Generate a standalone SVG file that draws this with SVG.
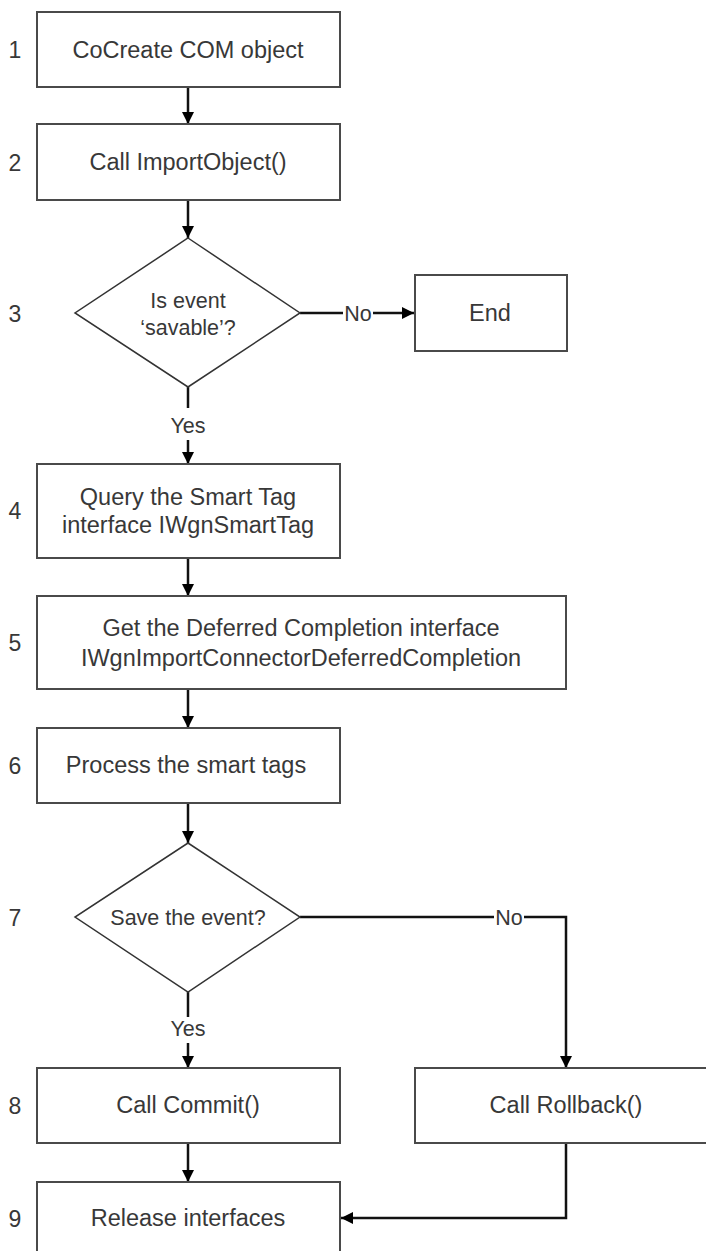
<svg xmlns="http://www.w3.org/2000/svg" width="706" height="1251" viewBox="0 0 706 1251">
<style>
  .box { fill: #ffffff; stroke: #4a4a4a; stroke-width: 2; }
  .dia { fill: #ffffff; stroke: #333333; stroke-width: 1.5; }
  .t { font-family: "Liberation Sans", Arial, sans-serif; font-size: 23.5px; fill: #383838; text-anchor: middle; }
  .d { font-family: "Liberation Sans", Arial, sans-serif; font-size: 21.5px; fill: #383838; text-anchor: middle; }
  .n { font-family: "Liberation Sans", Arial, sans-serif; font-size: 23px; fill: #383838; text-anchor: middle; }
  .c { fill: none; stroke: #111111; stroke-width: 2.5; }
  .ca { fill: none; stroke: #111111; stroke-width: 2.5; marker-end: url(#ah); }
</style>
<defs>
  <marker id="ah" markerUnits="userSpaceOnUse" markerWidth="14" markerHeight="14" viewBox="0 0 14 14" refX="13" refY="7" orient="auto">
    <path d="M1,1 L13,7 L1,13 Z" fill="#000000"/>
  </marker>
</defs>
<rect width="706" height="1251" fill="#ffffff"/>

<g id="labels">
  <text class="n" x="15" y="58">1</text>
  <text class="n" x="15" y="171">2</text>
  <text class="n" x="15" y="322">3</text>
  <text class="n" x="15" y="519">4</text>
  <text class="n" x="15" y="651">5</text>
  <text class="n" x="15" y="774">6</text>
  <text class="n" x="15" y="926">7</text>
  <text class="n" x="15" y="1114">8</text>
  <text class="n" x="15" y="1227">9</text>
</g>

<g id="connectors">
  <path class="ca" d="M188,87 V124"/>
  <path class="ca" d="M188,200 V238"/>
  <path class="c" d="M300,313 H343"/>
  <path class="ca" d="M373,313 H414"/>
  <path class="c" d="M188,387 V408"/>
  <path class="ca" d="M188,440 V464"/>
  <path class="ca" d="M188,558 V596"/>
  <path class="ca" d="M188,689 V728"/>
  <path class="ca" d="M188,803 V843"/>
  <path class="c" d="M300,917 H494"/>
  <path class="ca" d="M524,917 H566 V1068"/>
  <path class="c" d="M188,992 V1017"/>
  <path class="ca" d="M188,1043 V1068"/>
  <path class="ca" d="M188,1143 V1182"/>
  <path class="ca" d="M566,1143 V1218 H341"/>
  <text class="d" x="358" y="321">No</text>
  <text class="d" x="188" y="433">Yes</text>
  <text class="d" x="509" y="925">No</text>
  <text class="d" x="188" y="1036">Yes</text>
</g>

<g id="n1">
  <rect class="box" x="37" y="12" width="303" height="75"/>
  <text class="t" x="188" y="58">CoCreate COM object</text>
</g>
<g id="n2">
  <rect class="box" x="37" y="124" width="303" height="76"/>
  <text class="t" x="188" y="170">Call ImportObject()</text>
</g>
<g id="n3">
  <polygon class="dia" points="188,238 300,313 188,387 75,313"/>
  <text class="d" x="188" y="308">Is event</text>
  <text class="d" x="188" y="335">‘savable’?</text>
</g>
<g id="nEnd">
  <rect class="box" x="415" y="275" width="152" height="76"/>
  <text class="t" x="490" y="321">End</text>
</g>
<g id="n4">
  <rect class="box" x="37" y="464" width="303" height="94"/>
  <text class="t" x="188" y="505">Query the Smart Tag</text>
  <text class="t" x="188" y="533">interface IWgnSmartTag</text>
</g>
<g id="n5">
  <rect class="box" x="37" y="596" width="529" height="93"/>
  <text class="t" x="301" y="636">Get the Deferred Completion interface</text>
  <text class="t" x="301" y="666">IWgnImportConnectorDeferredCompletion</text>
</g>
<g id="n6">
  <rect class="box" x="37" y="728" width="303" height="75"/>
  <text class="t" x="186" y="773">Process the smart tags</text>
</g>
<g id="n7">
  <polygon class="dia" points="188,843 300,917 188,992 75,917"/>
  <text class="d" x="188" y="925">Save the event?</text>
</g>
<g id="n8">
  <rect class="box" x="37" y="1068" width="303" height="75"/>
  <text class="t" x="188" y="1113">Call Commit()</text>
</g>
<g id="nRollback">
  <rect class="box" x="415" y="1068" width="302" height="75"/>
  <text class="t" x="566" y="1113">Call Rollback()</text>
</g>
<g id="n9">
  <rect class="box" x="37" y="1182" width="303" height="80"/>
  <text class="t" x="188" y="1226">Release interfaces</text>
</g>
</svg>
